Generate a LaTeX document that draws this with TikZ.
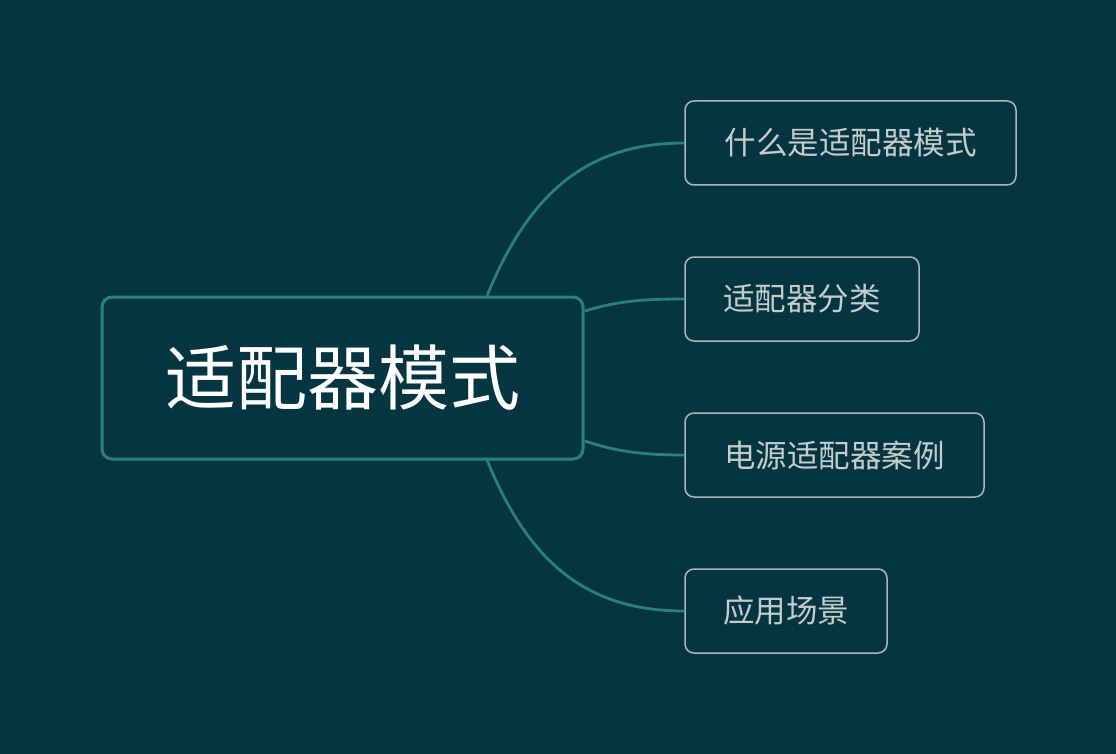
\documentclass[tikz,border=0pt]{standalone}
\usepackage{fontspec}
\newfontfamily\cjk{Noto Sans CJK SC}
\definecolor{bg}{HTML}{043540}
\definecolor{teal}{HTML}{2A7F7F}
\definecolor{edge}{HTML}{A9B8B8}
\definecolor{txt}{HTML}{C4CCCC}
\begin{document}
\begin{tikzpicture}[x=1pt,y=-1pt,
 mainbox/.style={draw=teal,line width=3pt,rounded corners=10pt,fill=bg,text=white,font=\cjk\fontsize{71}{74}\selectfont},
 childbox/.style={draw=edge,line width=1.5pt,rounded corners=9pt,text=txt,font=\cjk\fontsize{31.5}{34}\selectfont},
 conn/.style={draw=teal,line width=2.8pt}]
\fill[bg] (0,0) rectangle (1116,754);
\useasboundingbox (0,0) rectangle (1116,754);
\node[mainbox,minimum width=481pt,minimum height=162pt] (m) at (342.5,378) {适配器模式};
\node[childbox,minimum width=331pt,minimum height=84pt] (c1) at (850.5,143) {什么是适配器模式};
\node[childbox,minimum width=234pt,minimum height=84pt] (c2) at (802,299) {适配器分类};
\node[childbox,minimum width=299pt,minimum height=84pt] (c3) at (834.5,455) {电源适配器案例};
\node[childbox,minimum width=202pt,minimum height=84pt] (c4) at (786,611) {应用场景};
\coordinate (s1) at (487,296);
\coordinate (s2) at (585,311);
\coordinate (s3) at (585,441);
\coordinate (s4) at (487,460);
\draw[conn] (s1) .. controls (530,190) and (590,143) .. (c1.west);
\draw[conn] (s2) .. controls (620,300) and (650,299) .. (c2.west);
\draw[conn] (s3) .. controls (620,453) and (650,455) .. (c3.west);
\draw[conn] (s4) .. controls (530,566) and (590,611) .. (c4.west);
\end{tikzpicture}
\end{document}
